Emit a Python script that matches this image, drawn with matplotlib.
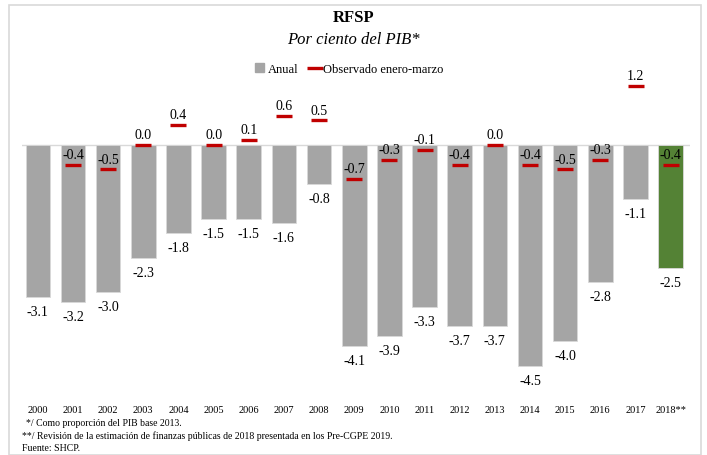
import matplotlib.pyplot as plt
from matplotlib.patches import Rectangle

plt.rcParams['font.family'] = ['Liberation Serif', 'DejaVu Serif']

years = ['2000', '2001', '2002', '2003', '2004', '2005', '2006', '2007', '2008', '2009',
         '2010', '2011', '2012', '2013', '2014', '2015', '2016', '2017', '2018**']
anual = [-3.1, -3.2, -3.0, -2.3, -1.8, -1.5, -1.5, -1.6, -0.8, -4.1,
         -3.9, -3.3, -3.7, -3.7, -4.5, -4.0, -2.8, -1.1, -2.5]
# observado enero-marzo (no dato para 2000)
obs_years = years[1:]
observado = [-0.4, -0.5, 0.0, 0.4, 0.0, 0.1, 0.6, 0.5, -0.7,
             -0.3, -0.1, -0.4, 0.0, -0.4, -0.5, -0.3, 1.2, -0.4]

gray = '#A5A5A5'
green = '#548235'
red = '#C00000'

fig = plt.figure(figsize=(7.07, 4.56), dpi=100)
ax = fig.add_axes([22 / 707, 1 - 395 / 456, (690 - 22) / 707, (395 - 70) / 456])

x = list(range(len(years)))
colors = [gray] * (len(years) - 1) + [green]
bars = ax.bar(x, anual, width=0.7, color=colors, edgecolor='#D9D9D9', linewidth=0.6, zorder=2)
ax.axhline(0, color='#D9D9D9', linewidth=1, zorder=1)

xo = [years.index(y) for y in obs_years]
line, = ax.plot(xo, observado, linestyle='none', marker='_', markersize=11, markeredgewidth=2.4,
                color=red, zorder=3)

for xi, v in zip(x, anual):
    ax.annotate(f'{v:.1f}', (xi, v), xytext=(0, -10.5), textcoords='offset points',
                ha='center', va='center', fontsize=10)
for xi, v in zip(xo, observado):
    ax.annotate(f'{v:.1f}', (xi, v), xytext=(0, 7.5), textcoords='offset points',
                ha='center', va='center', fontsize=10)

ax.set_xlim(-0.45, len(years) - 0.45)
ax.set_ylim(-5.08, 1.55)
ax.set_xticks(x)
ax.set_xticklabels(years, fontsize=7.5)
ax.tick_params(axis='x', length=0, pad=8)
ax.set_yticks([])
for s in ax.spines.values():
    s.set_visible(False)

anual_handle = Rectangle((0, 0), 1, 1, color=gray)
ax.legend([anual_handle, line], ['Anual', 'Observado enero-marzo'],
          loc='center', bbox_to_anchor=(0.49, 1.0), ncol=2, frameon=False,
          fontsize=9, handlelength=0.7, handleheight=0.7, handletextpad=0.3, columnspacing=1.0)

fig.text(0.5, 1 - 18 / 456, 'RFSP', ha='center', va='center', fontsize=12, fontweight='bold')
fig.text(0.5, 1 - 40 / 456, 'Por ciento del PIB*', ha='center', va='center', fontsize=12,
         style='italic')

fig.text(26 / 707, 1 - 423 / 456, '*/ Como proporción del PIB base 2013.', fontsize=7, va='center')
fig.text(22 / 707, 1 - 436 / 456,
         '**/ Revisión de la estimación de finanzas públicas de 2018 presentada en los Pre-CGPE 2019.',
         fontsize=7, va='center')
fig.text(22 / 707, 1 - 449 / 456, 'Fuente: SHCP.', fontsize=7, va='center')

fig.patches.append(Rectangle((9 / 707, 0.0), 692 / 707, 1 - 6 / 456, transform=fig.transFigure,
                             fill=False, edgecolor='#D9D9D9', linewidth=1.2))

fig.savefig('out.png', dpi=100)
